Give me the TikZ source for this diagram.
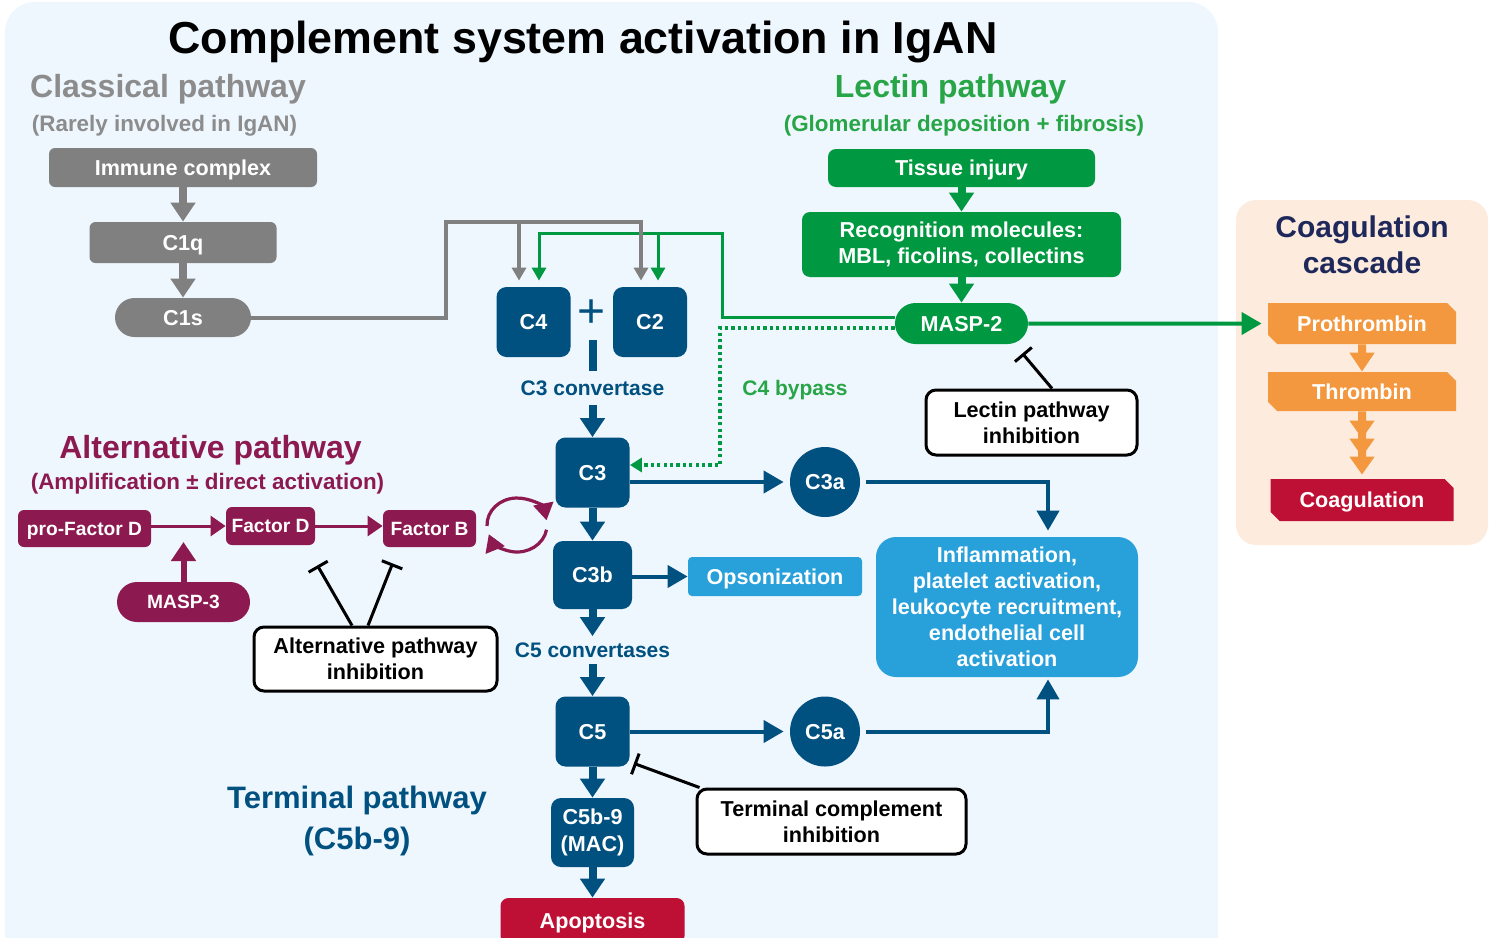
\documentclass[tikz,border=0pt]{standalone}
\usepackage{fontspec}
\setmainfont{Liberation Sans}
\usepackage{xcolor}
\usetikzlibrary{arrows.meta,shapes.misc}
\definecolor{panel}{RGB}{238,246,254}
\definecolor{coagpanel}{RGB}{253,236,222}
\definecolor{complement}{RGB}{0,80,128}
\definecolor{effector}{RGB}{40,160,218}
\definecolor{classical}{RGB}{128,128,128}
\definecolor{classicaltext}{RGB}{140,140,140}
\definecolor{lectin}{RGB}{0,152,64}
\definecolor{lectintext}{RGB}{40,165,70}
\definecolor{alternative}{RGB}{140,25,80}
\definecolor{coag}{RGB}{243,152,62}
\definecolor{damage}{RGB}{190,16,52}
\definecolor{coagtitle}{RGB}{30,40,90}
\tikzstyle{boxtext}=[inner sep=0pt, text=white, font=\bfseries\fontsize{10.8}{13}\selectfont]
\tikzstyle{single}=[text height=7.7pt, text depth=0pt]
\tikzstyle{cbox}=[boxtext, single, fill=complement, rounded corners=5pt, minimum width=37pt, minimum height=35pt]
\tikzstyle{cblob}=[boxtext, single, fill=complement, circle, minimum size=35pt]
\tikzstyle{greybox}=[boxtext, single, fill=classical, rounded corners=3pt]
\tikzstyle{greenbox}=[boxtext, fill=lectin, rounded corners=4pt]
\tikzstyle{altbox}=[boxtext, single, fill=alternative, rounded corners=3pt, font=\bfseries\fontsize{9.6}{11}\selectfont, text height=6.9pt]
\tikzstyle{coagbox}=[boxtext, single, fill=coag, chamfered rectangle, chamfered rectangle corners={north east,south west}, chamfered rectangle xsep=2.5pt, chamfered rectangle ysep=2pt, minimum width=94pt]
\tikzstyle{effectbox}=[boxtext, fill=effector, align=center]
\tikzstyle{inhibbox}=[boxtext, text=black, draw=black, fill=white, line width=1.5pt, rounded corners=5pt, align=center]
\tikzstyle{heading}=[inner sep=0pt, anchor=base, font=\bfseries\fontsize{16}{19}\selectfont]
\tikzstyle{subheading}=[inner sep=0pt, anchor=base, font=\bfseries\fontsize{11.2}{13}\selectfont]
\tikzstyle{convlabel}=[text=complement, font=\bfseries\fontsize{10.5}{12}\selectfont, text height=7.5pt, text depth=0pt]
\tikzstyle{block}=[line width=4pt, -{Triangle[width=12pt,length=9.5pt]}]
\tikzstyle{feed}=[line width=2pt, -{Triangle[width=7pt,length=6.5pt]}, shorten >=3pt]
\tikzstyle{link}=[line width=2pt, -{Triangle[width=11pt,length=10pt]}]
\tikzstyle{thin link}=[line width=1.5pt, -{Triangle[width=10pt,length=7.5pt]}]
\tikzstyle{inhib}=[line width=1.5pt, -{Bar[width=11pt]}]
\tikzstyle{bypass}=[lectin, line width=1.6pt, dash pattern=on 1.6pt off 1.6pt, -{Triangle[width=7pt,length=6pt]}]
\tikzstyle{turn}=[alternative, line width=1.6pt, -{Triangle[width=10pt,length=8.5pt]}]
\begin{document}
\begin{tikzpicture}[x=0.5pt,y=-0.5pt]
  \useasboundingbox (0,0) rectangle (1491,937);
  %% Backgrounds
  \fill[panel, rounded corners=15pt] (5,2) rectangle (1218,990);
  \fill[coagpanel, rounded corners=10pt] (1236,200) rectangle (1488,545);

  \draw (583,53) node[anchor=base, inner sep=0pt, font=\bfseries\fontsize{22.4}{26}\selectfont] (Title) {Complement system activation in IgAN};

  %% Classical pathway
  \draw (168,97) node[heading, text=classicaltext] (ClassTitle) {Classical pathway};
  \draw (164.5,131) node[subheading, text=classicaltext] (ClassSub) {(Rarely involved in IgAN)};
  \draw (183,167.5) node[greybox, minimum width=134pt, minimum height=19.5pt] (Immune) {Immune complex};
  \draw (183,242.5) node[greybox, minimum width=93.5pt, minimum height=20.5pt] (C1q) {C1q};
  \draw (183,317.5) node[greybox, rounded corners=9.75pt, minimum width=68pt, minimum height=19.5pt] (C1s) {C1s};

  %% Lectin pathway
  \draw (950.5,97) node[heading, text=lectintext] (LecTitle) {Lectin pathway};
  \draw (964,131) node[subheading, text=lectintext] (LecSub) {(Glomerular deposition + fibrosis)};
  \draw (961.5,168) node[greenbox, single, minimum width=133.5pt, minimum height=19pt] (Tissue) {Tissue injury};
  \draw (961.5,244.5) node[greenbox, align=center, minimum width=159.5pt, minimum height=32.5pt] (Recog) {Recognition molecules:\\MBL, ficolins, collectins};
  \draw (961.5,323.5) node[greenbox, single, rounded corners=10.25pt, minimum width=66.5pt, minimum height=20.5pt] (MASP2) {MASP-2};

  %% Coagulation cascade
  \draw (1362,245) node[inner sep=0pt, align=center, text=coagtitle, font=\bfseries\fontsize{15}{18}\selectfont] (CoagTitle) {Coagulation\\cascade};
  \draw (1362,323.5) node[coagbox, minimum height=20.5pt] (Prothrombin) {Prothrombin};
  \draw (1362,391.5) node[coagbox, minimum height=19.5pt] (Thrombin) {Thrombin};
  \draw (1362,500) node[coagbox, fill=damage, minimum width=91.5pt, minimum height=21pt] (Coagulation) {Coagulation};

  %% Central cascade
  \draw (533.5,322) node[cbox] (C4) {C4};
  \draw (650,322) node[cbox] (C2) {C2};
  \draw (591.5,314) node[inner sep=0pt, text=complement, font=\fontsize{24}{24}\selectfont] (Plus) {+};
  \coordinate (Conv) at (592.5,340);
  \draw (592.5,388) node[convlabel, inner sep=4.5pt] (C3conv) {C3 convertase};
  \draw (592.5,472.5) node[cbox] (C3) {C3};
  \draw (592.5,575) node[cbox, minimum width=39.5pt, minimum height=34pt] (C3b) {C3b};
  \draw (592.5,650) node[convlabel, inner sep=3pt] (C5conv) {C5 convertases};
  \draw (592.5,731.5) node[cbox] (C5) {C5};
  \draw (592.5,832.5) node[boxtext, fill=complement, rounded corners=5pt, align=center, font=\bfseries\fontsize{10.8}{13.5}\selectfont, minimum width=41.5pt, minimum height=34.5pt] (MAC) {C5b-9\\(MAC)};
  \draw (592.5,921) node[boxtext, single, fill=damage, rounded corners=4pt, minimum width=92pt, minimum height=23pt] (Apoptosis) {Apoptosis};
  \draw (825,482) node[cblob] (C3a) {C3a};
  \draw (825,731.5) node[cblob] (C5a) {C5a};
  \draw (775,576.5) node[boxtext, single, fill=effector, rounded corners=2pt, minimum width=87pt, minimum height=19.5pt] (Opson) {Opsonization};
  \draw (1007,607) node[effectbox, rounded corners=10pt, minimum width=131pt, minimum height=70pt] (Inflam) {Inflammation,\\platelet activation,\\leukocyte recruitment,\\endothelial cell\\activation};
  \draw (795,388) node[convlabel, text=lectintext] (Bypass) {C4 bypass};
  \draw (357,820.5) node[inner sep=0pt, align=center, text=complement, font=\bfseries\fontsize{15.5}{20.5}\selectfont] (TermTitle) {Terminal pathway\\(C5b-9)};

  %% Alternative pathway
  \draw (210.5,458) node[heading, text=alternative] (AltTitle) {Alternative pathway};
  \draw (207.5,489) node[subheading, text=alternative] (AltSub) {(Amplification ± direct activation)};
  \draw (84.5,528.5) node[altbox, minimum width=66.5pt, minimum height=18.5pt] (ProFD) {pro-Factor D};
  \draw (270.5,526) node[altbox, minimum width=44.5pt, minimum height=19pt] (FD) {Factor D};
  \draw (429.5,528.5) node[altbox, minimum width=46.5pt, minimum height=18.5pt] (FB) {Factor B};
  \draw (183.5,602) node[altbox, rounded corners=10pt, minimum width=66.5pt, minimum height=20pt] (MASP3) {MASP-3};
  \coordinate (Cleave) at (183.5,542);

  %% Inhibitors
  \draw (1031.5,422.5) node[inhibbox, minimum width=105.5pt, minimum height=32.5pt] (LecInh) {Lectin pathway\\inhibition};
  \draw (375.5,659) node[inhibbox, minimum width=121.5pt, minimum height=32pt] (AltInh) {Alternative pathway\\inhibition};
  \draw (831.5,821.5) node[inhibbox, minimum width=134.5pt, minimum height=32.5pt] (TermInh) {Terminal complement\\inhibition};

  %% Classical and lectin feeds into C4 + C2
  \coordinate (GreyFork) at (519,222);
  \coordinate (GreenFork) at (658,233);
  \draw[block, classical] (Immune) -- (C1q);
  \draw[block, classical] (C1q) -- (C1s);
  \draw[feed, lectin, line width=1.5pt] ([yshift=3.25pt]MASP2.west) -| (722,233) -| ([xshift=2.75pt]C4.north);
  \draw[feed, lectin, line width=1.5pt] (GreenFork) -- ([xshift=4pt]C2.north);
  \draw[feed, classical] (C1s.east) -| (446,222) -| ([xshift=-4.5pt]C2.north);
  \draw[feed, classical] (GreyFork) -- ([xshift=-7.25pt]C4.north);

  \draw[block, lectin] (Tissue) -- (Recog);
  \draw[block, lectin] (Recog) -- (MASP2);
  \draw[link, lectin, shorten >=3pt] (MASP2) -- (Prothrombin);
  \draw[bypass] ([yshift=-2.25pt]MASP2.west) -| (720,465) -- ([yshift=3.75pt]C3.east);

  \draw[block, coag] (Prothrombin) -- (Thrombin);
  \draw[coag, line width=4pt, shorten >=2pt, -{Triangle[width=12pt,length=9pt] Triangle[width=12pt,length=9pt] Triangle[width=12pt,length=9pt]}] (Thrombin) -- (Coagulation);

  %% Main column
  \draw[complement, line width=4pt] (Conv) -- (C3conv);
  \draw[block, complement] (C3conv) -- (C3);
  \draw[block, complement] (C3) -- (C3b);
  \draw[block, complement] (C3b) -- (C5conv);
  \draw[block, complement] (C5conv) -- (C5);
  \draw[block, complement] (C5) -- (MAC);
  \draw[block, complement] (MAC) -- (Apoptosis);

  \draw[link, complement, shorten >=3pt] ([yshift=-4.75pt]C3.east) -- (C3a);
  \draw[link, complement, shorten <=3pt, shorten >=3pt] (C3a.east) -| ([xshift=20.5pt]Inflam.north);
  \draw[link, complement, shorten >=3pt] (C5) -- (C5a);
  \draw[link, complement, shorten <=3pt, shorten >=1pt] (C5a.east) -| ([xshift=20.5pt]Inflam.south);
  \draw[link, complement] (C3b.east |- Opson.west) -- (Opson.west);

  %% Alternative amplification
  \draw[thin link, alternative] (ProFD.east |- FD.west) -- (FD.west);
  \draw[thin link, alternative] (FD.east) -- (FD.east -| FB.west);
  \draw[block, alternative, line width=3pt] (MASP3) -- (Cleave);
  \draw[turn] (517,525) ++(178:30 and 27) arc[start angle=178, end angle=350, x radius=30, y radius=27];
  \draw[turn] (517,525) ++(10:30 and 27) arc[start angle=10, end angle=160, x radius=30, y radius=27];

  %% Inhibition
  \draw[inhib] ([xshift=10.25pt]LecInh.north) -- ([shift={(-3pt,-4.5pt)}]MASP2.south east);
  \draw[inhib] ([xshift=-11.75pt]AltInh.north) -- ([shift={(1pt,-10pt)}]FD.south east);
  \draw[inhib] ([xshift=-3.75pt]AltInh.north) -- ([shift={(5pt,-8pt)}]FB.south west);
  \draw[inhib] ([xshift=2pt]TermInh.north west) -- ([shift={(2pt,1.75pt)}]C5.south east);
\end{tikzpicture}
\end{document}
